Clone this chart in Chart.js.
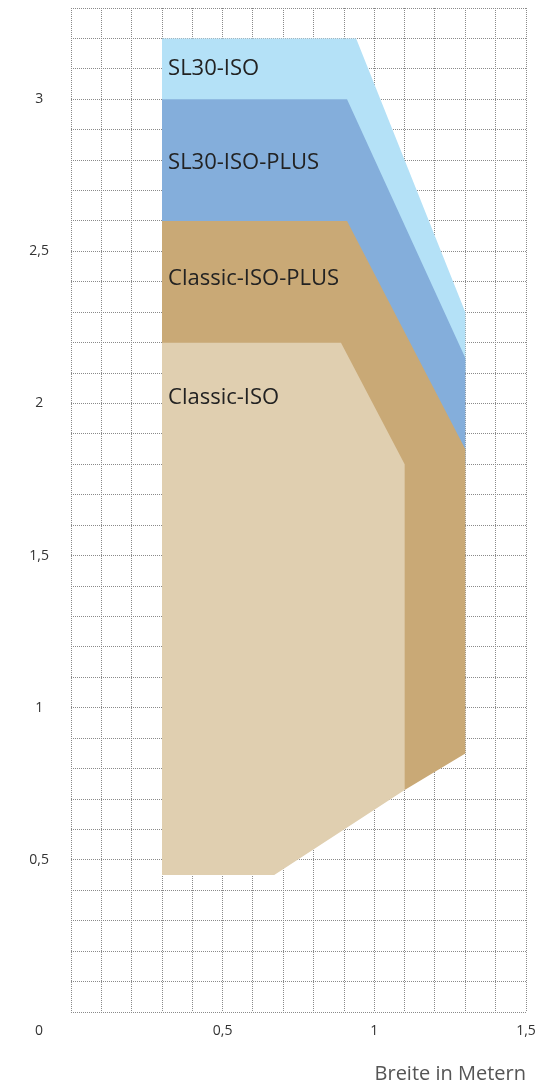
<!DOCTYPE html>
<html>
<head>
<meta charset="utf-8">
<script src="https://cdn.jsdelivr.net/npm/chart.js@4"></script>
<style>
  body { margin: 0; background: #fff; }
  #wrap { width: 557px; height: 1084px; }
</style>
</head>
<body>
<div id="wrap"><canvas id="myChart"></canvas></div>
<script>
// series names, top layer first
var seriesNames = ['Classic-ISO', 'Classic-ISO-PLUS', 'SL30-ISO-PLUS', 'SL30-ISO'];

// outline of each area (width in m, height in m); lower layers hide under upper ones
var classicIsoX = [0.3, 0.89, 1.1, 1.1, 0.67, 0.3, 0.3];
var classicIsoY = [2.2, 2.2, 1.8, 0.73, 0.45, 0.45, 2.2];

var classicPlusX = [0.3, 0.91, 1.3, 1.3, 1.1, 1.0, 0.3, 0.3];
var classicPlusY = [2.6, 2.6, 1.85, 0.85, 0.73, 0.9, 0.9, 2.6];

var sl30PlusX = [0.3, 0.91, 1.3, 1.3, 0.3, 0.3];
var sl30PlusY = [3.0, 3.0, 2.15, 1.8, 1.8, 3.0];

var sl30IsoX = [0.3, 0.94, 1.3, 1.3, 0.3, 0.3];
var sl30IsoY = [3.2, 3.2, 2.3, 2.1, 2.1, 3.2];

var xTicks = [0.5, 1, 1.5];
var yTicks = [0.5, 1, 1.5, 2, 2.5, 3];

var colors = ['#e0cfb0', '#c9a976', '#84aedb', '#b4e1f7'];
var labelY = [2.02, 2.41, 2.79, 3.1];

function pts(xs, ys)
{
    return xs.map(function(x, i) { return { x: x, y: ys[i] }; });
}

function fmt(v)
{
    return String(Math.round(v * 10) / 10).replace('.', ',');
}

function isTick(list, v)
{
    return list.some(function(t) { return Math.abs(t - v) < 1e-6; });
}

var shapes = [
    pts(classicIsoX, classicIsoY),
    pts(classicPlusX, classicPlusY),
    pts(sl30PlusX, sl30PlusY),
    pts(sl30IsoX, sl30IsoY)
];

var areaLabels = {
    id: 'areaLabels',
    afterDatasetsDraw: function(chart)
    {
        var c = chart.ctx;
        var xs = chart.scales.x, ys = chart.scales.y;
        c.save();
        c.font = '22px "Open Sans"';
        c.fillStyle = '#222';
        c.textAlign = 'left';
        c.textBaseline = 'middle';
        for (var i = 0; i < seriesNames.length; i++)
        {
            c.fillText(seriesNames[i], xs.getPixelForValue(0.32), ys.getPixelForValue(labelY[i]));
        }
        c.restore();
    },
    afterDraw: function(chart)
    {
        var c = chart.ctx;
        c.save();
        c.font = '14px "Open Sans"';
        c.fillStyle = '#333';
        c.textAlign = 'center';
        c.textBaseline = 'middle';
        c.fillText('0', 39, chart.scales.x.top + 19);
        c.restore();
    }
};

var ctx = document.getElementById('myChart').getContext('2d');

var myChart = new Chart(ctx,
{
    type: 'scatter',
    data:
    {
        datasets: shapes.map(function(s, i)
        {
            return {
                label: seriesNames[i],
                data: s,
                showLine: true,
                fill: 'shape',
                backgroundColor: colors[i],
                borderColor: colors[i],
                borderWidth: 0,
                pointRadius: 0,
                tension: 0
            };
        })
    },
    options:
    {
        responsive: true,
        maintainAspectRatio: false,
        animation: false,
        layout: { padding: { top: 8, right: 31, left: 0, bottom: 0 } },
        plugins:
        {
            legend: { display: false },
            tooltip: { enabled: false }
        },
        scales:
        {
            x:
            {
                type: 'linear',
                min: 0,
                max: 1.5,
                z: 1,
                afterFit: function(s)
                {
                    s.height = 72;
                    s.paddingLeft = 0;
                    s.paddingRight = 0;
                },
                grid: { color: '#8a8a8a', lineWidth: 1, drawTicks: false },
                border: { display: false, dash: [1, 1] },
                ticks:
                {
                    stepSize: 0.1,
                    padding: 11,
                    autoSkip: false,
                    maxRotation: 0,
                    color: '#333',
                    font: { family: 'Open Sans', size: 14 },
                    callback: function(v) { return isTick(xTicks, v) ? fmt(v) : ''; }
                },
                title:
                {
                    display: true,
                    text: 'Breite in Metern',
                    align: 'end',
                    color: '#555',
                    font: { family: 'Open Sans', size: 20, lineHeight: 1 },
                    padding: { top: 0, bottom: 0 }
                }
            },
            y:
            {
                type: 'linear',
                min: 0,
                max: 3.3,
                z: 1,
                afterFit: function(s)
                {
                    s.width = 71;
                    s.paddingTop = 0;
                    s.paddingBottom = 0;
                },
                grid: { color: '#8a8a8a', lineWidth: 1, drawTicks: false },
                border: { display: false, dash: [1, 1] },
                ticks:
                {
                    stepSize: 0.1,
                    padding: 22,
                    autoSkip: false,
                    crossAlign: 'center',
                    color: '#333',
                    font: { family: 'Open Sans', size: 14 },
                    callback: function(v) { return isTick(yTicks, v) ? fmt(v) : ''; }
                }
            }
        }
    },
    plugins: [areaLabels]
});
</script>
</body>
</html>
